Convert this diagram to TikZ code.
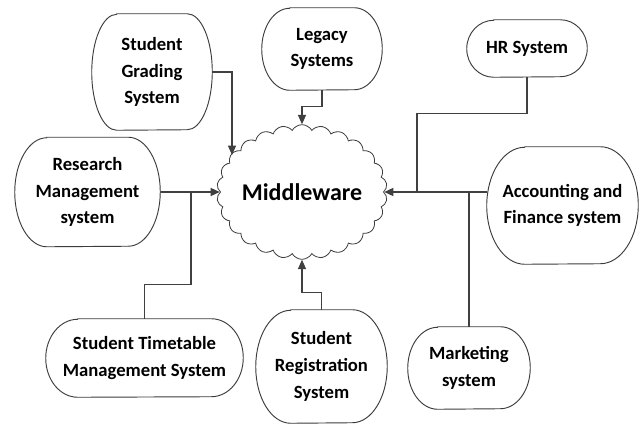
\documentclass[tikz,border=0pt]{standalone}
\usepackage{fontspec}
\setmainfont{Carlito}
\usetikzlibrary{shapes.symbols,arrows.meta}
\definecolor{ln}{HTML}{404040}
\definecolor{bd}{HTML}{3C3C3C}
\newcommand\tbox[7]{%
  \node[tb, minimum width=#4*0.75pt, minimum height=#5*0.75pt] (#1) at (#2,#3) {#7};
  \draw[boxline] ([xshift=#6*0.75pt]#1.north west) -- ([xshift=-#6*0.75pt]#1.north east)
    arc[start angle=90,end angle=-90,x radius=#6*0.75pt,y radius=#5*0.375pt]
    -- ([xshift=#6*0.75pt]#1.south west)
    arc[start angle=270,end angle=90,x radius=#6*0.75pt,y radius=#5*0.375pt] -- cycle;}
\begin{document}
\begin{tikzpicture}[x=0.75pt,y=-0.75pt,
  tb/.style={inner sep=0pt, align=center, font=\bfseries\fontsize{14}{20}\selectfont},
  boxline/.style={draw=bd, line width=0.7pt},
  conn/.style={draw=ln, line width=0.9pt},
  arr/.style={conn, -{Triangle[length=7pt,width=6pt]}},
  thickarr/.style={arr, line width=1.4pt}]
\fill[white] (0,0) rectangle (640,425);
\useasboundingbox (0,0) rectangle (640,425);

\node[cloud, draw=bd, line width=0.6pt, cloud puffs=26, cloud puff arc=120,
  cloud ignores aspect, minimum width=123pt, minimum height=101pt, inner sep=0pt,
  font=\bfseries\fontsize{18}{22}\selectfont] (mw) at (302,192) {Middleware};

\tbox{grading}{152}{72}{120}{116}{25}{Student\\Grading\\System}
\tbox{legacy}{322}{49}{120}{82}{28}{Legacy\\Systems}
\tbox{hr}{527}{48.5}{120}{57}{27}{HR System}
\tbox{research}{87.5}{192}{145}{109}{32}{Research\\Management\\system}
\tbox{acc}{562.5}{205.5}{151}{117}{38}{Accounting and\\Finance system}
\tbox{tt}{144.5}{358}{197}{78}{32}{Student Timetable\\Management System}
\tbox{reg}{321.5}{366.5}{131}{113}{35}{Student\\Registration\\System}
\tbox{mkt}{469}{368}{122}{82}{30}{Marketing\\system}

\coordinate (gtip) at (232,155);
\coordinate (tj) at (191,192);
\coordinate (hj) at (417,192);

\draw[arr] (grading.east) -| (gtip);
\draw[arr] (legacy.south) -- ++(0,16) -| (mw.north);
\draw[thickarr] (research.east) -- (mw.west);
\draw[conn] (tt.north) -- ++(0,-34) -| (tj);
\draw[arr] (reg.north) -- ++(0,-17) -| (mw.south);
\draw[thickarr] (acc.west |- mw.east) -- (mw.east);
\draw[conn] (hr.south) -- ++(0,36) -| (hj);
\draw[conn] (mkt.north) -- (mkt.north |- mw.east);
\end{tikzpicture}
\end{document}
